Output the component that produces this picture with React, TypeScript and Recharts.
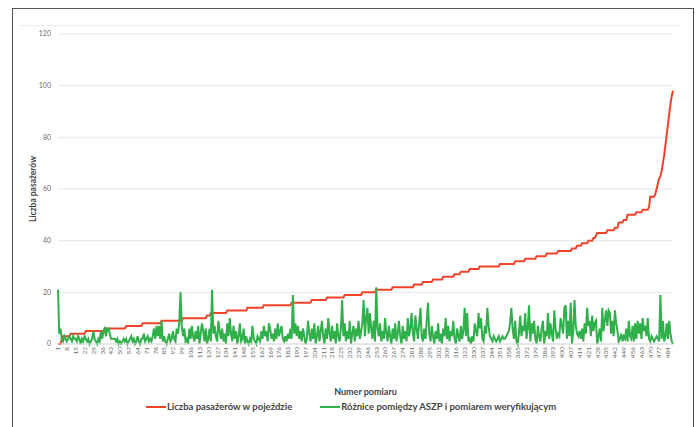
import { CartesianGrid, Legend, Line, LineChart, XAxis, YAxis } from "recharts";

// passengers in vehicle, read as [value, how many consecutive measurements]
const passengerSteps: [number, number][] = [
  [0, 3], [2, 1], [3, 6], [4, 12], [5, 15], [6, 17], [7, 13], [8, 15], [9, 17],
  [10, 19], [11, 3], [12, 13], [13, 16], [14, 13], [15, 22], [16, 16], [17, 12],
  [18, 14], [19, 14], [20, 11], [21, 13], [22, 17], [23, 7], [24, 8], [25, 8],
  [26, 9], [27, 5], [28, 7], [29, 8], [30, 16], [31, 12], [32, 8], [33, 9],
  [34, 8], [35, 9], [36, 11], [37, 4], [38, 4], [39, 5], [40, 4], [41, 2],
  [42, 1], [43, 8], [44, 6], [45, 3], [47, 4], [48, 3], [50, 7], [51, 5],
  [52, 5], [53, 1], [57, 4], [58, 1], [60, 1], [62, 1], [64, 1], [65, 1],
  [67, 1], [70, 1], [73, 1], [77, 1], [81, 1], [85, 1], [89, 1], [93, 1],
  [96, 1], [98, 1],
];

// differences between ASZP and the verification count
const differences = [
  21, 4, 6, 2, 1, 3, 2, 1, 2, 3,
  2, 1, 3, 2, 2, 1, 3, 2, 0, 2,
  1, 3, 2, 1, 2, 0, 1, 2, 5, 2,
  1, 0, 2, 1, 5, 2, 5, 6, 3, 6,
  6, 4, 2, 2, 2, 2, 1, 2, 0, 1,
  0, 1, 2, 1, 2, 0, 1, 2, 3, 1,
  2, 0, 1, 3, 1, 0, 2, 2, 4, 1,
  2, 3, 1, 2, 1, 3, 6, 2, 7, 3,
  7, 2, 9, 1, 3, 1, 0, 2, 4, 1,
  2, 5, 2, 1, 6, 4, 8, 20, 7, 3,
  6, 1, 2, 0, 6, 2, 7, 3, 1, 5,
  2, 7, 0, 4, 8, 5, 1, 6, 0, 2,
  6, 1, 21, 4, 7, 3, 1, 9, 5, 2,
  6, 1, 4, 0, 8, 3, 10, 4, 1, 7,
  2, 5, 0, 3, 8, 1, 2, 6, 0, 3,
  1, 0, 2, 1, 7, 2, 1, 0, 3, 2,
  1, 5, 2, 7, 3, 5, 1, 8, 6, 2,
  4, 1, 6, 2, 8, 3, 5, 7, 2, 1,
  3, 1, 4, 2, 6, 2, 19, 4, 8, 3,
  7, 2, 5, 1, 6, 3, 0, 2, 9, 4,
  1, 6, 2, 8, 0, 3, 7, 1, 5, 9,
  3, 0, 6, 2, 10, 4, 1, 7, 2, 5,
  0, 8, 3, 1, 6, 17, 3, 8, 1, 5,
  2, 9, 0, 4, 7, 1, 6, 3, 9, 2,
  5, 8, 17, 3, 10, 14, 4, 12, 6, 2,
  9, 1, 22, 6, 3, 8, 1, 5, 2, 10,
  4, 1, 7, 3, 0, 6, 2, 8, 1, 4,
  9, 3, 0, 7, 2, 5, 1, 10, 3, 6,
  12, 4, 1, 11, 6, 2, 8, 14, 3, 1,
  6, 2, 9, 16, 4, 1, 7, 3, 0, 5,
  2, 8, 1, 4, 0, 6, 3, 10, 2, 7,
  1, 5, 3, 9, 2, 0, 6, 3, 1, 7,
  2, 5, 14, 3, 12, 1, 2, 0, 3, 1,
  8, 5, 3, 12, 6, 10, 2, 1, 7, 4,
  14, 7, 3, 2, 1, 3, 2, 1, 2, 3,
  1, 2, 3, 2, 2, 3, 4, 5, 8, 14,
  6, 2, 9, 1, 0, 4, 11, 3, 7, 5,
  12, 2, 6, 15, 1, 8, 4, 9, 2, 0,
  7, 3, 1, 6, 9, 0, 5, 3, 12, 2,
  8, 4, 1, 13, 6, 2, 4, 3, 10, 7,
  4, 14, 15, 2, 9, 3, 16, 0, 5, 17,
  7, 4, 3, 5, 2, 6, 1, 8, 4, 14,
  7, 9, 3, 11, 5, 8, 9, 0, 3, 6,
  1, 14, 5, 9, 13, 7, 13, 12, 4, 9,
  3, 13, 8, 5, 1, 2, 4, 1, 3, 2,
  6, 1, 9, 3, 2, 7, 1, 8, 2, 9,
  4, 8, 2, 10, 5, 7, 3, 10, 2, 1,
  3, 2, 1, 2, 3, 2, 1, 19, 2, 9,
  1, 3, 8, 2, 9, 4, 1, 0,
];

const yTicks = [0, 20, 40, 60, 80, 100, 120];

const passengers = passengerSteps.flatMap(([v, n]) => Array(n).fill(v));
const data = differences.map((d, i) => ({
  n: String(i + 1),
  passengers: passengers[i],
  diff: d,
}));

const FONT = "Lato, 'Open Sans', sans-serif";
const RED = "#f0432b";
const GREEN = "#30b04a";

function RotatedTick({ x, y, payload }: any) {
  return (
    <text
      x={x}
      y={y}
      dy={2.4}
      transform={`rotate(-90, ${x}, ${y})`}
      textAnchor="end"
      fontSize={6.5}
      fill="#6b6b6b"
      fontFamily={FONT}
    >
      {payload.value}
    </text>
  );
}

function LegendRow({ payload }: any) {
  return (
    <div
      style={{
        display: "flex",
        justifyContent: "center",
        gap: 28,
        paddingLeft: 4,
        fontFamily: FONT,
        fontSize: 9.5,
        fontWeight: 700,
        color: "#444",
        lineHeight: "14px",
      }}
    >
      {(payload || []).map((p: any) => (
        <div key={p.value} style={{ display: "flex", alignItems: "center" }}>
          <span style={{ width: 20, height: 2, background: p.color, marginRight: 1 }} />
          {p.value}
        </div>
      ))}
    </div>
  );
}

export default function App() {
  return (
    <div
      style={{
        position: "absolute",
        left: 0,
        top: 0,
        width: 698,
        height: 427,
        background: "#fff",
        overflow: "hidden",
      }}
    >
      <LineChart
        width={698}
        height={427}
        data={data}
        margin={{ top: 34, right: 25, left: 13, bottom: 0 }}
        style={{ fontFamily: FONT }}
      >
        <CartesianGrid stroke="#e6e6e6" vertical={false} />
        <XAxis
          dataKey="n"
          interval={6}
          height={56}
          tick={<RotatedTick />}
          tickLine={false}
          tickSize={2}
          tickMargin={1}
          axisLine={{ stroke: "#dcdcdc" }}
          label={{
            value: "Numer pomiaru",
            position: "insideBottom",
            offset: 5,
            style: { fontSize: 9, fontWeight: 700, fill: "#444", fontFamily: FONT },
          }}
        />
        <YAxis
          width={45}
          domain={[0, 120]}
          ticks={yTicks}
          axisLine={false}
          tickLine={false}
          tickMargin={1}
          tick={{ fontSize: 7, fill: "#6b6b6b", fontFamily: FONT }}
          label={{
            value: "Liczba pasażerów",
            angle: -90,
            position: "insideLeft",
            offset: 20,
            style: { textAnchor: "middle", fontSize: 8.5, fontWeight: 700, fill: "#444", fontFamily: FONT },
          }}
        />
        <Legend verticalAlign="bottom" height={27} wrapperStyle={{ left: 0, width: 698 }} content={<LegendRow />} />
        <Line
          type="linear"
          dataKey="passengers"
          name="Liczba pasażerów w pojeździe"
          stroke={RED}
          strokeWidth={2}
          dot={false}
          isAnimationActive={false}
        />
        <Line
          type="linear"
          dataKey="diff"
          name="Różnice pomiędzy ASZP i pomiarem weryfikującym"
          stroke={GREEN}
          strokeWidth={2}
          dot={false}
          isAnimationActive={false}
        />
      </LineChart>
      <div
        style={{
          position: "absolute",
          left: 20,
          top: 25,
          width: 659,
          height: 1,
          background: "#ececec",
        }}
      />
      <div
        style={{
          position: "absolute",
          left: 12,
          top: 8,
          width: 682,
          height: 440,
          boxSizing: "border-box",
          borderTop: "1.5px solid #555",
          borderLeft: "1.5px solid #555",
          borderRight: "1.5px solid #444",
          pointerEvents: "none",
        }}
      />
    </div>
  );
}
